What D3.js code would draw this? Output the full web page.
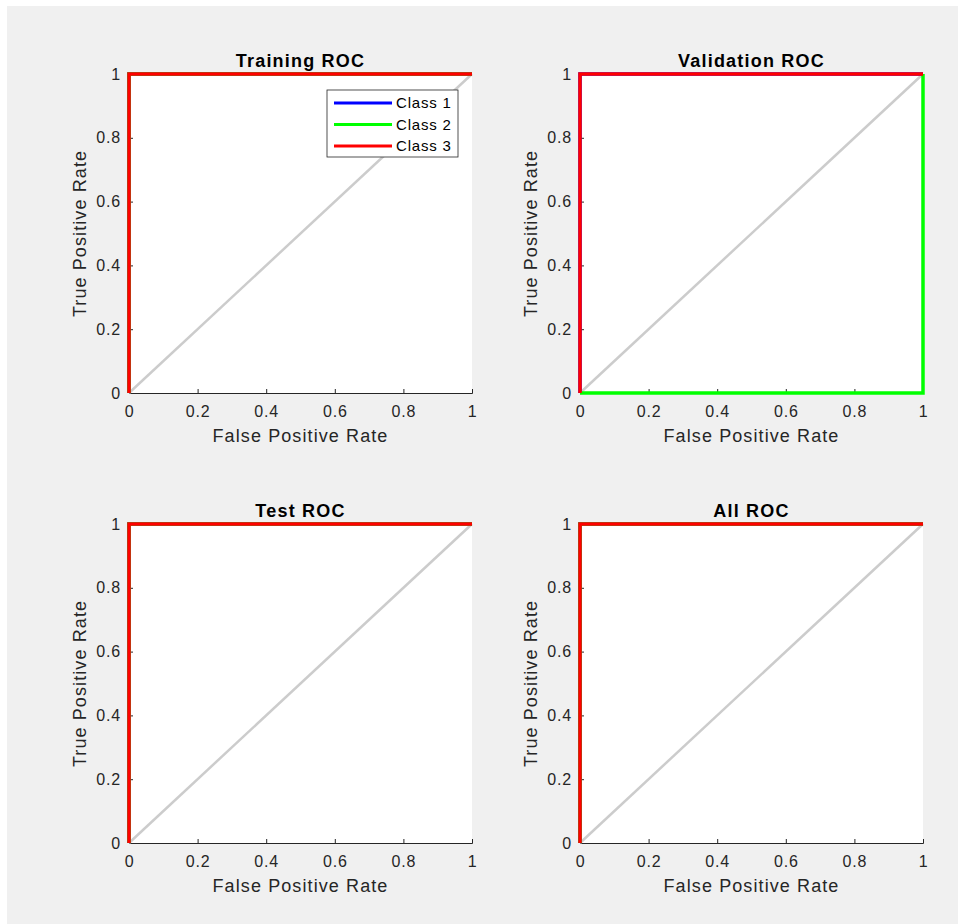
<!DOCTYPE html>
<html>
<head>
<meta charset="utf-8">
<script src="https://cdn.jsdelivr.net/npm/d3@7"></script>
<style>
  body { margin: 0; background: #fff; }
  text { font-family: "Liberation Sans", Arial, sans-serif; }
</style>
</head>
<body>
<svg width="958" height="924"></svg>
<script>
// panel titles and the classes shown in each ROC plot
var titles = ["Training ROC", "Validation ROC", "Test ROC", "All ROC"];
var classNames = ["Class 1", "Class 2", "Class 3"];
var classColors = ["#0000ff", "#00ff00", "#ff0000"];
var ticks = [0, 0.2, 0.4, 0.6, 0.8, 1];

// false positive rate / true positive rate points, per panel, per class
var trainFpr = [[0, 0, 1], [0, 0, 1], [0, 0, 1]];
var trainTpr = [[0, 1, 1], [0, 1, 1], [0, 1, 1]];
var valFpr = [[0, 0, 1], [0, 1, 1], [0, 0, 1]];
var valTpr = [[0, 1, 1], [0, 0, 1], [0, 1, 1]];
var testFpr = [[0, 0, 1], [0, 0, 1], [0, 0, 1]];
var testTpr = [[0, 1, 1], [0, 1, 1], [0, 1, 1]];
var allFpr = [[0, 0, 1], [0, 0, 1], [0, 0, 1]];
var allTpr = [[0, 1, 1], [0, 1, 1], [0, 1, 1]];

var fprs = [trainFpr, valFpr, testFpr, allFpr];
var tprs = [trainTpr, valTpr, testTpr, allTpr];

var svg = d3.select("svg");
var axisColor = "#262626";

svg.append("rect")
  .attr("x", 7).attr("y", 6)
  .attr("width", 951).attr("height", 918)
  .attr("fill", "#f0f0f0");

var origins = [[129, 74], [580, 74], [129, 524], [580, 524]];
var w = 343, h = 319;

titles.forEach(function(title, p) {
  var g = svg.append("g")
    .attr("transform", "translate(" + origins[p][0] + "," + origins[p][1] + ")");

  var x = d3.scaleLinear().domain([0, 1]).range([0, w]);
  var y = d3.scaleLinear().domain([0, 1]).range([h, 0]);

  g.append("rect").attr("width", w).attr("height", h).attr("fill", "#fff");

  // axes with inward ticks
  var xAxis = g.append("g").attr("transform", "translate(0," + h + ")")
    .call(d3.axisBottom(x).tickValues(ticks).tickSize(-4).tickPadding(10)
      .tickFormat(function(d) { return d3.format("")(d); }));
  var yAxis = g.append("g")
    .call(d3.axisLeft(y).tickValues(ticks).tickSize(-4).tickPadding(8)
      .tickFormat(function(d) { return d3.format("")(d); }));

  [xAxis, yAxis].forEach(function(a) {
    a.select(".domain").attr("stroke", axisColor).attr("stroke-width", 1);
    a.selectAll(".tick line").attr("stroke", axisColor);
    a.selectAll(".tick text").attr("fill", axisColor)
      .attr("font-size", 16).attr("letter-spacing", 0.8)
      .attr("font-family", "Liberation Sans, Arial, sans-serif");
  });
  xAxis.selectAll(".tick text").attr("dy", "0.9em");

  // chance line
  g.append("line")
    .attr("x1", x(0)).attr("y1", y(0)).attr("x2", x(1)).attr("y2", y(1))
    .attr("stroke", "#cccccc").attr("stroke-width", 2.5);

  var line = d3.line()
    .x(function(d) { return x(d[0]); })
    .y(function(d) { return y(d[1]); });

  classNames.forEach(function(c, k) {
    var pts = fprs[p][k].map(function(f, i) { return [f, tprs[p][k][i]]; });
    g.append("path")
      .attr("d", line(pts))
      .attr("fill", "none")
      .attr("stroke", classColors[k])
      .attr("stroke-width", 3.5)
      .attr("stroke-linejoin", "miter");
  });

  g.append("text")
    .attr("x", w / 2).attr("y", -7)
    .attr("text-anchor", "middle")
    .attr("font-size", 18).attr("font-weight", "bold")
    .attr("letter-spacing", 1.2)
    .attr("fill", "#000")
    .text(title);

  g.append("text")
    .attr("x", w / 2).attr("y", h + 49)
    .attr("text-anchor", "middle")
    .attr("font-size", 18).attr("letter-spacing", 1.1)
    .attr("fill", axisColor)
    .text("False Positive Rate");

  g.append("text")
    .attr("transform", "translate(-43," + (h / 2) + ") rotate(-90)")
    .attr("text-anchor", "middle")
    .attr("font-size", 18).attr("letter-spacing", 1.1)
    .attr("fill", axisColor)
    .text("True Positive Rate");

  if (p === 0) {
    var lg = g.append("g").attr("transform", "translate(198,16)");
    lg.append("rect").attr("width", 131).attr("height", 67)
      .attr("fill", "#fff").attr("stroke", "#262626").attr("stroke-width", 0.8);
    classNames.forEach(function(c, k) {
      var yy = 13 + k * 21.5;
      lg.append("line").attr("x1", 7).attr("x2", 65).attr("y1", yy).attr("y2", yy)
        .attr("stroke", classColors[k]).attr("stroke-width", 3);
      lg.append("text").attr("x", 69).attr("y", yy + 5)
        .attr("font-size", 15).attr("letter-spacing", 0.8)
        .attr("fill", "#000").text(c);
    });
  }
});
</script>
</body>
</html>
